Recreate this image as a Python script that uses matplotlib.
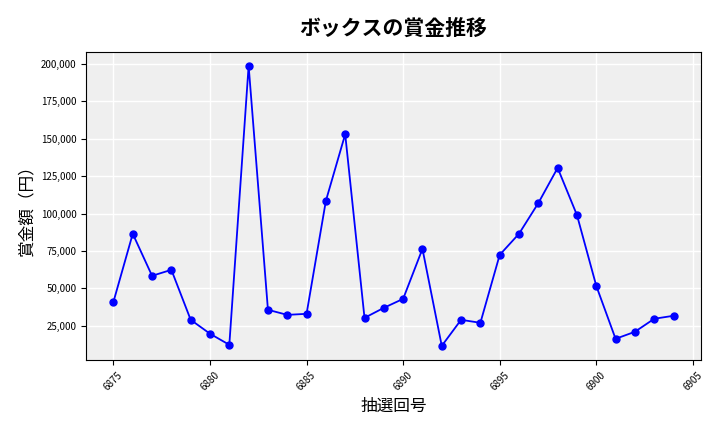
import matplotlib
matplotlib.use('Agg')
import matplotlib.pyplot as plt
import matplotlib.ticker

plt.rcParams['font.family'] = ['Noto Sans CJK JP', 'DejaVu Sans']

draws = list(range(6875, 6905))
prizes = [41000, 86500, 58400, 62400, 29000, 19700, 12300, 198700, 35700, 32300,
          33000, 108500, 153000, 30300, 37000, 43000, 76400, 11600, 29000, 27000,
          72400, 86500, 107000, 130500, 99000, 51700, 16300, 21000, 29700, 31700]

fig, ax = plt.subplots(figsize=(7.2, 4.32), dpi=100)
fig.subplots_adjust(left=0.12, right=0.973, top=0.88, bottom=0.167)
ax.set_facecolor('#efefef')
ax.grid(True, color='white', linewidth=1)
ax.set_axisbelow(True)
ax.plot(draws, prizes, color='blue', marker='o', markersize=5, linewidth=1.3)
ax.set_xlim(6873.6, 6905.4)
ax.yaxis.set_major_formatter(matplotlib.ticker.FuncFormatter(lambda v, p: f'{int(v):,}'))
ax.tick_params(axis='both', labelsize=7)
plt.setp(ax.get_xticklabels(), rotation=45)
ax.set_title('ボックスの賞金推移', fontsize=15, fontweight='bold', pad=12)
ax.set_xlabel('抽選回号', fontsize=12)
ax.set_ylabel('賞金額（円）', fontsize=12)
fig.savefig('out.png')
